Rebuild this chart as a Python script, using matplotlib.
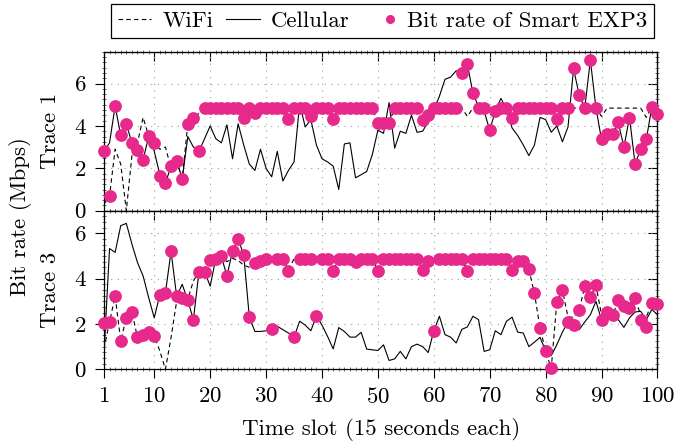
import matplotlib
matplotlib.use("Agg")
import numpy as np
import matplotlib.pyplot as plt
from matplotlib.lines import Line2D
from matplotlib.legend_handler import HandlerLine2D
from matplotlib.ticker import MultipleLocator

plt.rcParams['font.family'] = 'cmr10'
plt.rcParams['mathtext.fontset'] = 'cm'
plt.rcParams['axes.formatter.use_mathtext'] = True
FS = 16.5
plt.rcParams['font.size'] = FS

# time slots 1..100
slots = list(range(1, 101))

# ---- Trace 1 (top panel) ----
wifi1 = [0.3, 0.71, 2.9, 2.2, 0.0, 2.6, 3.2, 4.4, 3.52, 3.18,
         2.9, 3.0, 2.0, 2.34, 1.51, 4.1, 4.36, 4.6, 4.84, 4.84,
         4.84, 4.84, 4.84, 4.84, 4.84, 4.36, 4.84, 4.62, 4.84, 4.84,
         4.84, 4.84, 4.84, 4.32, 4.84, 4.84, 4.84, 4.48, 4.84, 4.84,
         4.84, 4.32, 4.84, 4.84, 4.84, 4.84, 4.84, 4.84, 4.84, 4.15,
         4.15, 4.15, 4.84, 4.84, 4.84, 4.84, 4.84, 4.28, 4.5, 4.84,
         4.84, 4.84, 4.84, 4.84, 4.84, 4.45, 4.84, 4.84, 4.84, 4.84,
         4.72, 4.84, 4.84, 4.36, 4.84, 4.84, 4.84, 4.84, 4.84, 4.84,
         4.84, 4.32, 4.84, 4.84, 4.84, 4.84, 4.84, 4.84, 4.84, 4.45,
         4.84, 4.84, 4.84, 4.84, 4.84, 4.84, 4.84, 4.4, 4.9, 4.6]

cell1 = [2.8, 3.2, 4.94, 3.55, 4.09, 3.2, 2.85, 2.4, 3.5, 2.8,
         1.7, 1.3, 2.1, 2.35, 1.5, 3.5, 3.0, 2.8, 3.4, 4.0,
         3.4, 3.2, 4.05, 2.45, 4.1, 3.1, 2.2, 1.9, 2.9, 2.0,
         1.6, 2.8, 1.4, 1.9, 2.3, 5.05, 3.95, 4.3, 3.1, 2.45,
         2.3, 2.1, 1.0, 3.15, 3.2, 1.55, 1.7, 1.85, 2.65, 3.8,
         3.65, 5.1, 2.95, 3.75, 3.65, 4.5, 3.7, 3.75, 4.2, 4.75,
         5.4, 6.2, 6.3, 6.6, 6.5, 6.9, 5.55, 4.9, 4.7, 3.8,
         4.7, 5.3, 4.8, 3.9, 3.55, 3.1, 2.6, 3.1, 4.4, 4.3,
         3.7, 4.0, 3.25, 3.95, 6.7, 5.45, 4.85, 7.1, 4.85, 3.35,
         3.6, 3.6, 4.15, 3.0, 4.4, 2.2, 2.9, 3.35, 4.9, 4.55]

rate1 = [2.81, 0.71, 4.94, 3.55, 4.09, 3.2, 2.85, 2.4, 3.52, 3.18,
         1.65, 1.29, 2.12, 2.34, 1.51, 4.1, 4.36, 2.81, 4.84, 4.84,
         4.84, 4.84, 4.84, 4.84, 4.84, 4.36, 4.84, 4.62, 4.84, 4.84,
         4.84, 4.84, 4.84, 4.32, 4.84, 4.84, 4.84, 4.48, 4.84, 4.84,
         4.84, 4.32, 4.84, 4.84, 4.84, 4.84, 4.84, 4.84, 4.84, 4.15,
         4.15, 4.15, 4.84, 4.84, 4.84, 4.84, 4.84, 4.28, 4.5, 4.84,
         4.84, 4.84, 4.84, 4.84, 6.48, 6.9, 5.57, 4.84, 4.84, 3.8,
         4.72, 4.84, 4.84, 4.36, 4.84, 4.84, 4.84, 4.84, 4.84, 4.84,
         4.84, 4.32, 4.84, 4.84, 6.71, 5.46, 4.84, 7.1, 4.84, 3.36,
         3.6, 3.6, 4.17, 3.02, 4.39, 2.19, 2.9, 3.36, 4.9, 4.54]

# ---- Trace 3 (bottom panel) ----
wifi3 = [0.9, 2.09, 3.23, 1.26, 2.27, 2.53, 1.41, 1.53, 1.63, 1.48,
         0.8, 0.0, 1.4, 3.0, 3.16, 3.1, 3.9, 4.31, 4.31, 4.81,
         4.89, 4.98, 4.75, 4.9, 4.8, 4.6, 4.5, 4.68, 4.76, 4.86,
         4.86, 4.89, 4.89, 4.34, 4.89, 4.89, 4.89, 4.89, 4.89, 4.89,
         4.89, 4.34, 4.89, 4.89, 4.89, 4.72, 4.89, 4.89, 4.89, 4.34,
         4.89, 4.89, 4.89, 4.89, 4.89, 4.89, 4.89, 4.4, 4.78, 4.89,
         4.89, 4.89, 4.89, 4.89, 4.89, 4.34, 4.89, 4.89, 4.89, 4.89,
         4.89, 4.89, 4.89, 4.39, 4.79, 4.79, 4.41, 3.35, 1.82, 0.81,
         0.04, 2.96, 3.5, 2.3, 2.3, 2.62, 3.66, 3.19, 3.7, 2.4,
         2.53, 2.41, 3.04, 2.81, 2.71, 3.13, 2.4, 2.3, 2.93, 2.86]

cell3 = [0.65, 5.33, 5.16, 6.34, 6.44, 5.53, 4.71, 4.12, 3.16, 2.27,
         3.3, 3.38, 5.2, 3.23, 3.75, 3.04, 2.19, 4.31, 4.31, 3.67,
         4.89, 4.98, 4.12, 5.23, 5.75, 5.05, 2.31, 1.67, 1.67, 1.7,
         1.79, 1.9, 1.75, 1.6, 1.42, 2.12, 1.95, 1.7, 2.34, 1.95,
         1.45, 0.9, 1.84, 1.67, 1.42, 1.42, 1.63, 0.89, 0.86, 0.83,
         1.08, 0.39, 0.46, 0.79, 0.46, 1.0, 1.11, 1.0, 0.74, 1.7,
         2.34, 1.53, 1.42, 1.16, 1.76, 1.87, 2.34, 2.19, 0.79, 0.86,
         1.7, 1.53, 2.12, 2.3, 1.64, 1.6, 1.0, 1.2, 1.41, 0.81,
         0.6, 1.08, 1.64, 2.09, 1.97, 1.75, 2.09, 2.41, 3.0, 2.18,
         2.53, 2.41, 2.19, 1.85, 2.27, 2.53, 2.56, 2.19, 2.64, 2.41]

rate3 = [2.04, 2.09, 3.23, 1.26, 2.27, 2.53, 1.41, 1.53, 1.63, 1.48,
         3.3, 3.38, 5.2, 3.23, 3.16, 3.04, 2.19, 4.31, 4.31, 4.81,
         4.89, 4.98, 4.12, 5.23, 5.75, 5.05, 2.31, 4.68, 4.76, 4.86,
         1.79, 4.89, 4.89, 4.34, 1.42, 4.89, 4.89, 4.89, 2.34, 4.89,
         4.89, 4.34, 4.89, 4.89, 4.89, 4.72, 4.89, 4.89, 4.89, 4.34,
         4.89, 4.89, 4.89, 4.89, 4.89, 4.89, 4.89, 4.4, 4.78, 1.7,
         4.89, 4.89, 4.89, 4.89, 4.89, 4.34, 4.89, 4.89, 4.89, 4.89,
         4.89, 4.89, 4.89, 4.39, 4.79, 4.79, 4.41, 3.35, 1.82, 0.81,
         0.04, 2.96, 3.5, 2.09, 1.97, 2.62, 3.66, 3.19, 3.7, 2.18,
         2.53, 2.41, 3.04, 2.81, 2.71, 3.13, 2.19, 1.87, 2.93, 2.86]

xticks = [1, 10, 20, 30, 40, 50, 60, 70, 80, 90, 100]
yticks = [0, 2, 4, 6]
labels = ['WiFi', 'Cellular', 'Bit rate of Smart EXP3']

PINK = '#E6298A'
DASH = (4, 3)


class RightDotHandler(HandlerLine2D):
    # put the single legend dot near the right end of the handle box
    def get_xdata(self, legend, xdescent, ydescent, width, height, fontsize):
        x = -xdescent + width - 0.25 * fontsize
        return np.array([x, x]), np.array([x])


fig = plt.figure(figsize=(6.75, 4.42), dpi=100)
left, width = 0.154, 0.820
ax1 = fig.add_axes([left, 0.5233, width, 0.3597])
ax2 = fig.add_axes([left, 0.1645, width, 0.3588])


def draw_panel(ax, wifi, cell, rate, ymax):
    ax.plot(slots, wifi, color='black', lw=0.8, dashes=DASH, zorder=2)
    ax.plot(slots, cell, color='black', lw=0.8, zorder=3)
    ax.plot(slots, rate, 'o', color=PINK, ms=9.2, mec='none', zorder=4,
            clip_on=False)
    ax.set_xlim(1, 100)
    ax.set_ylim(0, ymax)
    ax.set_xticks(xticks)
    ax.set_yticks(yticks)
    ax.xaxis.set_minor_locator(MultipleLocator(1))
    ax.yaxis.set_minor_locator(MultipleLocator(0.25))
    ax.grid(True, which='major', color='0.62', lw=0.8, dashes=(1, 5))
    ax.tick_params(which='major', direction='out', length=6.5, width=0.8,
                   labelsize=FS, pad=6)
    ax.tick_params(which='minor', direction='inout', length=2.2, width=0.4,
                   top=True, right=True)
    for s in ax.spines.values():
        s.set_linewidth(0.9)
    # mirrored inward major ticks on top / right
    top = ax.secondary_xaxis('top')
    top.set_xticks(xticks)
    top.tick_params(direction='in', length=6.5, width=0.8, labeltop=False)
    right = ax.secondary_yaxis('right')
    right.set_yticks(yticks)
    right.tick_params(direction='in', length=6.5, width=0.8, labelright=False)


draw_panel(ax1, wifi1, cell1, rate1, 7.5)
draw_panel(ax2, wifi3, cell3, rate3, 7.0)
ax1.tick_params(axis='x', labelbottom=False)

fig.text(381 / 675, 1 - 435 / 442, 'Time slot (15 seconds each)',
         ha='center', va='baseline', fontsize=FS)
fig.text(50 / 675, 1 - 131 / 442, 'Trace 1', rotation=90,
         ha='center', va='center', fontsize=FS)
fig.text(50 / 675, 1 - 290 / 442, 'Trace 3', rotation=90,
         ha='center', va='center', fontsize=FS)
fig.text(21 / 675, 1 - 217 / 442, 'Bit rate (Mbps)', rotation=90,
         ha='center', va='center', fontsize=FS)

wifi_h = Line2D([], [], color='black', lw=0.8, dashes=DASH)
cell_h = Line2D([], [], color='black', lw=0.8)
rate_h = Line2D([], [], marker='o', ls='none', color=PINK, ms=6.5, mec='none')
leg = fig.legend([wifi_h, cell_h, rate_h], labels, ncol=3,
                 loc='upper center', bbox_to_anchor=(0.567, 0.99),
                 fontsize=FS, frameon=True, fancybox=False,
                 edgecolor='black', framealpha=1, handlelength=1.45,
                 handletextpad=0.5, columnspacing=0.55, borderpad=0.3,
                 borderaxespad=0.0,
                 handler_map={rate_h: RightDotHandler(numpoints=1)})
leg.get_frame().set_linewidth(0.9)

fig.savefig('out.png', dpi=100)
